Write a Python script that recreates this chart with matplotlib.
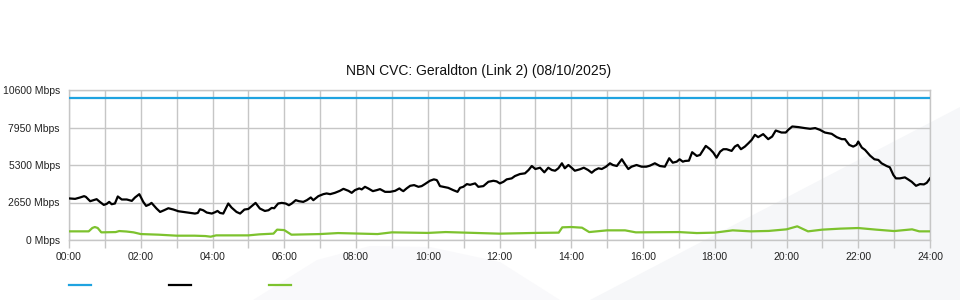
import matplotlib
matplotlib.use("Agg")
import matplotlib.pyplot as plt
from matplotlib.patches import Polygon
from matplotlib.lines import Line2D

plt.rcParams['font.family'] = ['Liberation Sans', 'DejaVu Sans']

title = "NBN CVC: Geraldton (Link 2) (08/10/2025)"
capacity_mbps = 10000
y_ticks = [0, 2650, 5300, 7950, 10600]
x_tick_hours = list(range(0, 25))

black_t = [0.03, 0.17, 0.31, 0.42, 0.47, 0.59, 0.68, 0.77, 0.86, 0.97, 1.05, 1.12, 1.19, 1.28, 1.36, 1.47,
           1.61, 1.75, 1.84, 1.96, 2.07, 2.15, 2.24, 2.30, 2.44, 2.54, 2.65, 2.77, 2.91, 3.05, 3.19,
           3.37, 3.51, 3.59, 3.65, 3.74, 3.84, 3.98, 4.07, 4.14, 4.21, 4.30, 4.44, 4.53, 4.67, 4.77, 4.89,
           5.00, 5.09, 5.20, 5.32, 5.46, 5.56, 5.65, 5.72, 5.83, 5.93, 6.04, 6.13, 6.21, 6.32, 6.41, 6.53,
           6.63, 6.74, 6.81, 6.95, 7.09, 7.18, 7.28, 7.41, 7.55, 7.65, 7.79, 7.88, 7.97, 8.09, 8.16, 8.25,
           8.34, 8.47, 8.58, 8.67, 8.81, 8.95, 9.09, 9.21, 9.27, 9.32, 9.41, 9.51, 9.62, 9.74, 9.83, 9.92,
           10.06, 10.17, 10.25, 10.28, 10.34, 10.43, 10.57, 10.71, 10.83, 10.90, 10.99, 11.09, 11.18, 11.32,
           11.41, 11.55, 11.69, 11.83, 11.92, 12.01, 12.11, 12.20, 12.34, 12.43, 12.57, 12.71, 12.81, 12.90,
           13.00, 13.13, 13.25, 13.36, 13.46, 13.55, 13.64, 13.74, 13.82, 13.92, 14.01, 14.10, 14.24, 14.35,
           14.47, 14.57, 14.66, 14.76, 14.85, 14.97, 15.08, 15.16, 15.27, 15.41, 15.50, 15.59, 15.68, 15.82,
           15.96, 16.09, 16.19, 16.33, 16.47, 16.61, 16.73, 16.83, 16.94, 17.02, 17.11, 17.17, 17.28, 17.37,
           17.50, 17.59, 17.75, 17.87, 17.96, 18.05, 18.15, 18.24, 18.33, 18.47, 18.56, 18.64, 18.73, 18.84,
           18.94, 19.03, 19.12, 19.21, 19.35, 19.49, 19.60, 19.70, 19.86, 19.98, 20.05, 20.16, 20.33, 20.51,
           20.66, 20.80, 20.93, 21.07, 21.26, 21.40, 21.54, 21.63, 21.75, 21.86, 21.95, 22.00, 22.10, 22.19,
           22.33, 22.45, 22.56, 22.65, 22.79, 22.88, 22.98, 23.05, 23.16, 23.30, 23.39, 23.49, 23.61, 23.72,
           23.83, 23.91, 24.00]
black_v = [2934, 2906, 3005, 3098, 3048, 2742, 2814, 2885, 2693, 2480, 2551, 2693, 2529, 2579, 3076, 2863,
           2863, 2764, 3005, 3240, 2693, 2409, 2508, 2622, 2224, 1982, 2103, 2245, 2153, 2032, 1982,
           1911, 1869, 1911, 2174, 2103, 1940, 1869, 1961, 2053, 1911, 1869, 2579, 2295, 1982, 1869, 2153,
           2195, 2387, 2622, 2224, 2053, 2103, 2267, 2245, 2579, 2622, 2579, 2458, 2579, 2814, 2742, 2693,
           2814, 3005, 2814, 3098, 3240, 3290, 3240, 3332, 3474, 3616, 3474, 3332, 3524, 3645, 3574, 3759,
           3645, 3453, 3524, 3595, 3403, 3403, 3474, 3645, 3524, 3453, 3645, 3830, 3879, 3759, 3808, 3950,
           4185, 4284, 4235, 4114, 3808, 3759, 3687, 3524, 3403, 3687, 3759, 3950, 3900, 4000,
           3759, 3808, 4114, 4185, 4142, 4000, 4114, 4284, 4355, 4519, 4661, 4711, 4945, 5229,
           5016, 5108, 4782, 5108, 4945, 4895, 5066, 5421, 5066, 5300, 5108, 4895, 4995, 5108,
           4945, 4753, 4945, 5066, 5016, 5180, 5421, 5300, 5229, 5705, 5350, 5016, 5180, 5300,
           5180, 5180, 5250, 5421, 5229, 5180, 5776, 5464, 5535, 5705, 5535, 5585, 5606, 6203,
           5940, 6011, 6650, 6416, 6174, 5819, 6245, 6416, 6416, 6295, 6601, 6721, 6416, 6601,
           6842, 7077, 7432, 7268, 7482, 7126, 7311, 7737, 7595, 7595, 7787, 8022, 7979, 7908,
           7858, 7908, 7787, 7595, 7503, 7268, 7126, 7126, 6721, 6601, 6721, 6956, 6530, 6366,
           5961, 5705, 5656, 5421, 5229, 5137, 4590, 4355, 4355, 4426, 4284, 4114, 3830, 3950,
           3929, 4043, 4355]

green_t = [0.0, 0.55, 0.65, 0.72, 0.8, 0.9, 1.3, 1.4, 1.6, 1.8, 2.0, 2.5, 3.0, 3.5, 3.8, 3.95, 4.1, 5.0,
           5.3, 5.7, 5.8, 6.0, 6.2, 7.0, 7.5, 8.6, 9.0, 10.0, 10.5, 12.0, 13.0, 13.65, 13.75, 14.0, 14.3,
           14.5, 15.0, 15.5, 15.8, 17.0, 17.5, 18.0, 18.5, 19.0, 19.5, 20.0, 20.3, 20.6, 21.0, 21.5, 22.0,
           22.5, 23.0, 23.5, 23.7, 24.0]
green_v = [611, 611, 850, 917, 850, 540, 560, 632, 600, 540, 420, 376, 305, 305, 280, 234, 327, 327,
           398, 450, 732, 700, 376, 420, 490, 420, 540, 500, 561, 448, 500, 520, 895, 917, 870,
           561, 682, 682, 540, 561, 490, 520, 682, 611, 640, 753, 966, 611, 732, 803, 846,
           732, 632, 753, 611, 611]

blue_c = '#1fa3e0'
black_c = '#000000'
green_c = '#7dc22e'
grid_c = '#c6c6c6'

fig = plt.figure(figsize=(9.6, 3.0), dpi=100)
W, H = 960, 300

# faint decorative background shapes (behind everything)
def px(pts):
    return [(x / W, 1 - y / H) for x, y in pts]
fig.patches.append(Polygon(px([(590, 300), (960, 107), (960, 300)]), closed=True,
                           transform=fig.transFigure, facecolor='#f6f7f9', edgecolor='none', zorder=-10))
fig.patches.append(Polygon(px([(253, 300), (317, 260), (370, 246), (430, 247), (500, 262), (560, 300)]),
                           closed=True, transform=fig.transFigure, facecolor='#f9f9fb',
                           edgecolor='none', zorder=-10))

ax = fig.add_axes([69 / W, 60 / H, 861 / W, 150 / H])
ax.set_zorder(1)
ax.patch.set_alpha(0)

ax.plot([0, 24], [capacity_mbps, capacity_mbps], color=blue_c, lw=1.6, zorder=3)
ax.plot(black_t, black_v, color=black_c, lw=1.6, zorder=4)
ax.plot(green_t, green_v, color=green_c, lw=1.6, zorder=3)

ax.set_xlim(0, 24)
ax.set_ylim(0, 10600)
ax.set_xticks(x_tick_hours)
ax.set_xticklabels([f"{h:02d}:00" if h % 2 == 0 else "" for h in x_tick_hours])
ax.set_yticks(y_ticks)
ax.set_yticklabels([f"{v} Mbps" for v in y_ticks])
ax.grid(True, color=grid_c, lw=1.0, zorder=1)
ax.tick_params(axis='x', length=6, width=1.0, color=grid_c, pad=2.5, labelsize=7.5, labelcolor='#222222')
ax.tick_params(axis='y', length=0, pad=6.5, labelsize=7.5, labelcolor='#222222')
for sp in ax.spines.values():
    sp.set_color(grid_c)
    sp.set_linewidth(1.0)

fig.text(479 / W, 1 - 71 / H, title, ha='center', va='center', fontsize=10, color='#111111')

# legend swatches
for x0, c in [(69, blue_c), (169, black_c), (269, green_c)]:
    fig.add_artist(Line2D([x0 / W, (x0 + 22) / W], [1 - 285 / H, 1 - 285 / H],
                          transform=fig.transFigure, color=c, lw=1.6))

fig.savefig("out.png", dpi=100)
